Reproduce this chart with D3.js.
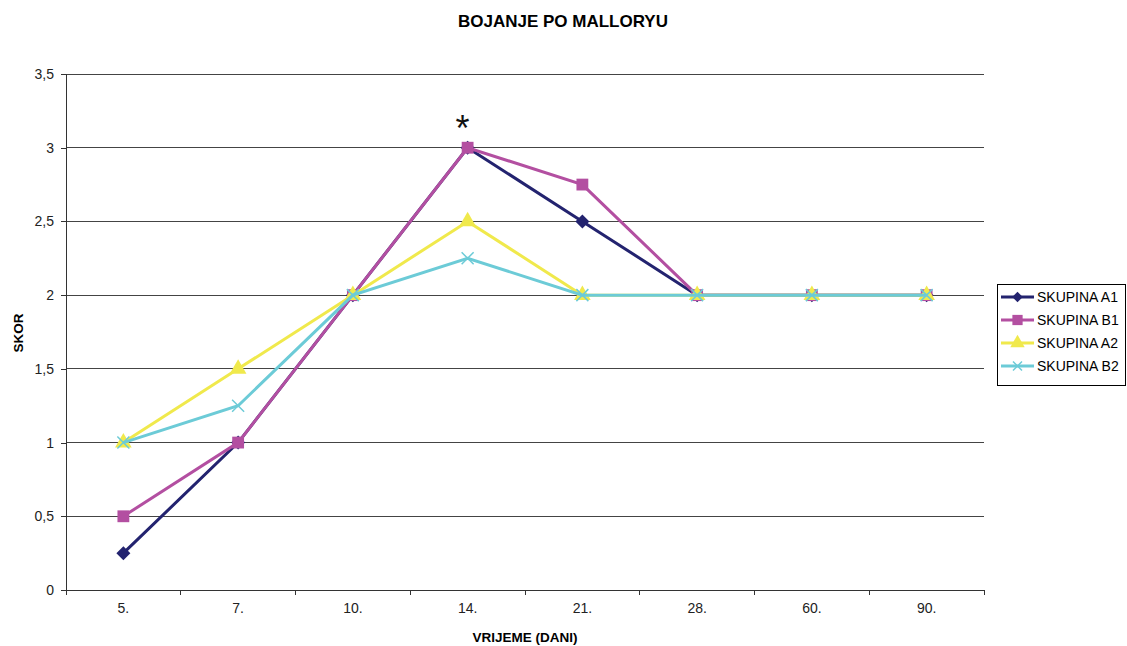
<!DOCTYPE html>
<html><head><meta charset="utf-8">
<script src="https://cdn.jsdelivr.net/npm/d3@7"></script>
<style>body{margin:0;background:#fff}text{font-family:Arial,"Liberation Sans",sans-serif}</style>
</head><body><svg id="c" width="1127" height="646"></svg>
<script>
const categories = ["5.","7.","10.","14.","21.","28.","60.","90."];
const seriesNames = ["SKUPINA A1","SKUPINA B1","SKUPINA A2","SKUPINA B2"];
const a1 = [0.25,1,2,3,2.5,2,2,2];
const b1 = [0.5,1,2,3,2.75,2,2,2];
const a2 = [1,1.5,2,2.5,2,2,2,2];
const b2 = [1,1.25,2,2.25,2,2,2,2];
const yTicks = [0,0.5,1,1.5,2,2.5,3,3.5];
const colors = ["#23236f","#b34fa1","#f0e94c","#6ccbd7"];
const symbols = ["diamond", d3.symbolSquare, d3.symbolTriangle, "x"];
const series = [a1,b1,a2,b2];

const svg = d3.select("#c");
const L=66,R=984,T=74,B=590;
const x = d3.scaleBand().domain(categories).range([L,R]);
const y = d3.scaleLinear().domain([0,3.5]).range([B,T]);

svg.append("text").attr("x",563).attr("y",27).attr("text-anchor","middle")
  .attr("font-size",17).attr("font-weight","bold").text("BOJANJE PO MALLORYU");

// grid
svg.append("g").selectAll("line").data(yTicks.filter(d=>d>0)).join("line")
  .attr("x1",L).attr("x2",R).attr("y1",d=>y(d)).attr("y2",d=>y(d))
  .attr("stroke","#444").attr("stroke-width",1).attr("shape-rendering","crispEdges");

const fmt = d=>String(d).replace(".",",");
const ya = svg.append("g").attr("transform",`translate(${L},0)`)
  .call(d3.axisLeft(y).tickValues(yTicks).tickFormat(fmt).tickSize(5).tickPadding(7));
ya.selectAll("text").attr("font-size",14).attr("fill","#222").attr("font-family","Arial");
ya.selectAll("line,path").attr("stroke","#333").attr("shape-rendering","crispEdges");

const xa = svg.append("g").attr("transform",`translate(0,${B})`)
  .call(d3.axisBottom(x).tickSize(0).tickPadding(13));
xa.selectAll("text").attr("font-size",14).attr("fill","#222").attr("font-family","Arial");
xa.select("path").attr("stroke","#333").attr("shape-rendering","crispEdges");
// boundary ticks
const bounds = categories.map(c=>x(c)).concat([R]);
svg.append("g").selectAll("line").data(bounds).join("line")
  .attr("x1",d=>d).attr("x2",d=>d).attr("y1",B).attr("y2",B+5)
  .attr("stroke","#333").attr("shape-rendering","crispEdges");

svg.append("text").attr("x",525).attr("y",642).attr("text-anchor","middle")
  .attr("font-size",13.5).attr("font-weight","bold").text("VRIJEME (DANI)");
svg.append("text").attr("transform","translate(23,333) rotate(-90)").attr("text-anchor","middle")
  .attr("font-size",13.5).attr("font-weight","bold").text("SKOR");

const cx = c=>x(c)+x.bandwidth()/2;
function marker(g,i,px,py,scale){
  const s=scale||1;
  if(symbols[i]==="x"){
    const r=6*s;
    g.append("path").attr("d",`M${px-r},${py-r}L${px+r},${py+r}M${px-r},${py+r}L${px+r},${py-r}`)
      .attr("stroke",colors[i]).attr("stroke-width",1.5).attr("fill","none");
  } else if(symbols[i]==="diamond"){
    const r=7*s;
    g.append("path").attr("d",`M${px},${py-r}L${px+r},${py}L${px},${py+r}L${px-r},${py}Z`)
      .attr("fill",colors[i]);
  } else {
    const size = [90,140,120][i]*s;
    g.append("path").attr("d",d3.symbol().type(symbols[i]).size(size)())
      .attr("transform",`translate(${px},${py})`).attr("fill",colors[i]);
  }
}
const line = d3.line().x((d,j)=>cx(categories[j])).y(d=>y(d));
series.forEach((s,i)=>{
  const g=svg.append("g");
  g.append("path").datum(s).attr("d",line).attr("fill","none")
    .attr("stroke",colors[i]).attr("stroke-width",3);
  s.forEach((v,j)=>marker(g,i,cx(categories[j]),y(v)));
});

svg.append("text").attr("x",cx("14.")-5).attr("y",y(3)-7).attr("text-anchor","middle")
  .attr("font-size",36).attr("fill","#111").text("*");

// legend
const lg = svg.append("g");
lg.append("rect").attr("x",997.5).attr("y",284.5).attr("width",128).attr("height",101)
  .attr("fill","#fff").attr("stroke","#000").attr("stroke-width",1);
seriesNames.forEach((n,i)=>{
  const yy = 297+i*23;
  lg.append("line").attr("x1",1001).attr("x2",1034).attr("y1",yy).attr("y2",yy)
    .attr("stroke",colors[i]).attr("stroke-width",3);
  marker(lg,i,1017.5,yy,0.75);
  lg.append("text").attr("x",1037).attr("y",yy+5).attr("font-size",14).text(n);
});
</script></body></html>
